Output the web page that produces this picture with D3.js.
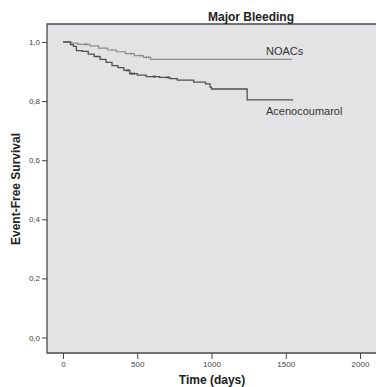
<!DOCTYPE html>
<html>
<head>
<meta charset="utf-8">
<script src="https://cdn.jsdelivr.net/npm/d3@7"></script>
<style>
  html, body { margin: 0; padding: 0; background: #fff; }
  svg { display: block; }
  text { font-family: "Liberation Sans", Arial, sans-serif; }
</style>
</head>
<body>
<svg id="chart" width="376" height="387"></svg>
<script>
// ---- data ----
const title = "Major Bleeding";
const xTicks = [0, 500, 1000, 1500, 2000];
const yTicks = [0, 0.2, 0.4, 0.6, 0.8, 1.0];
const seriesNames = ["NOACs", "Acenocoumarol"];
const noacTimes =  [0, 55, 100, 180, 240, 300, 360, 420, 480, 540, 590, 1540];
const noacSurv =   [1.0, 0.996, 0.992, 0.987, 0.979, 0.973, 0.967, 0.961, 0.954, 0.948, 0.941, 0.941];
const acenoTimes = [0, 50, 70, 90, 130, 170, 210, 250, 290, 330, 370, 410, 450, 500, 560, 650, 720, 770, 880, 960, 990, 1000, 1240, 1550];
const acenoSurv =  [1.0, 0.991, 0.985, 0.971, 0.968, 0.959, 0.951, 0.941, 0.931, 0.92, 0.913, 0.904, 0.893, 0.888, 0.883, 0.88, 0.876, 0.871, 0.864, 0.858, 0.847, 0.841, 0.804, 0.804];
const noacCensor = [150, 160, 330, 460, 520, 560, 575];
const acenoCensor = [430, 440, 450, 460, 470, 480, 610, 620, 700, 710];

// ---- layout ----
const svg = d3.select("#chart");
const plotLeft = 47, plotTop = 24, plotBottom = 353, plotRight = 380;
const x = d3.scaleLinear().domain([0, 2000]).range([63, 360]);
const y = d3.scaleLinear().domain([0, 1]).range([337.5, 42]);

svg.append("rect")
  .attr("x", plotLeft).attr("y", plotTop)
  .attr("width", plotRight - plotLeft).attr("height", plotBottom - plotTop)
  .attr("fill", "#e3e3e5");

// frame (left, top, bottom)
svg.append("path")
  .attr("d", `M${plotRight},${plotTop}H${plotLeft}V${plotBottom}H${plotRight}`)
  .attr("fill", "none").attr("stroke", "#4a4a4a").attr("stroke-width", 1.3);

// axes
const yAxis = d3.axisLeft(y).tickValues(yTicks).tickSize(5).tickPadding(2)
  .tickFormat(d => d3.format(".1f")(d).replace(".", ","));
const gy = svg.append("g").attr("transform", `translate(${plotLeft},0)`).call(yAxis);
gy.select(".domain").remove();
gy.selectAll("line").attr("stroke", "#444");
gy.selectAll("text").attr("font-size", 8).attr("fill", "#444");

const xAxis = d3.axisBottom(x).tickValues(xTicks).tickSize(6).tickPadding(2)
  .tickFormat(d3.format("d"));
const gx = svg.append("g").attr("transform", `translate(0,${plotBottom})`).call(xAxis);
gx.select(".domain").remove();
gx.selectAll("line").attr("stroke", "#444");
gx.selectAll("text").attr("font-size", 8).attr("fill", "#444");

// curves
const line = d3.line().x(d => x(d[0])).y(d => y(d[1])).curve(d3.curveStepAfter);
const noac = noacTimes.map((t, i) => [t, noacSurv[i]]);
const aceno = acenoTimes.map((t, i) => [t, acenoSurv[i]]);

function survAt(data, t) {
  let v = data[0][1];
  for (const d of data) { if (d[0] <= t) v = d[1]; }
  return v;
}

svg.append("path").attr("d", line(noac))
  .attr("fill", "none").attr("stroke", "#8c8c8c").attr("stroke-width", 1.2);
svg.append("path").attr("d", line(aceno))
  .attr("fill", "none").attr("stroke", "#505050").attr("stroke-width", 1.3);

svg.selectAll(".cn").data(noacCensor).enter().append("line")
  .attr("x1", d => x(d)).attr("x2", d => x(d))
  .attr("y1", d => y(survAt(noac, d)) - 1.2).attr("y2", d => y(survAt(noac, d)) + 1.2)
  .attr("stroke", "#8c8c8c").attr("stroke-width", 1);
svg.selectAll(".ca").data(acenoCensor).enter().append("line")
  .attr("x1", d => x(d)).attr("x2", d => x(d))
  .attr("y1", d => y(survAt(aceno, d)) - 1.2).attr("y2", d => y(survAt(aceno, d)) + 1.2)
  .attr("stroke", "#505050").attr("stroke-width", 1);

// series labels
svg.append("text").attr("x", 266).attr("y", 55).attr("font-size", 11).attr("fill", "#333").text(seriesNames[0]);
svg.append("text").attr("x", 266).attr("y", 115).attr("font-size", 11).attr("fill", "#333").text(seriesNames[1]);

// title & axis titles
svg.append("text").attr("x", 251).attr("y", 21).attr("text-anchor", "middle")
  .attr("font-size", 12).attr("font-weight", "bold").attr("fill", "#222").text(title);
svg.append("text").attr("x", 212).attr("y", 383.5).attr("text-anchor", "middle")
  .attr("font-size", 12).attr("font-weight", "bold").attr("fill", "#222").text("Time (days)");
svg.append("text").attr("transform", "translate(20,189) rotate(-90)").attr("text-anchor", "middle")
  .attr("font-size", 12).attr("font-weight", "bold").attr("fill", "#222").text("Event-Free Survival");
</script>
</body>
</html>
